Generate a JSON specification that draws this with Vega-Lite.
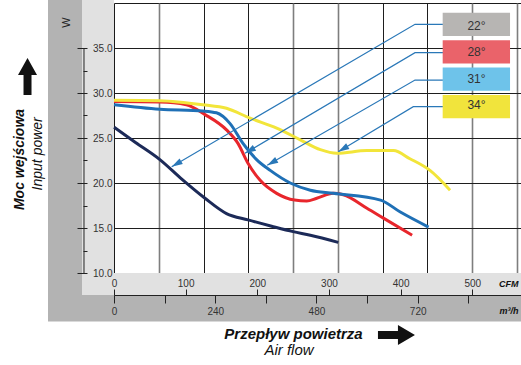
{
  "$schema": "https://vega.github.io/schema/vega-lite/v6.json",
  "width": 407,
  "height": 270,
  "autosize": "none",
  "padding": {"left": 114, "top": 3, "right": 0, "bottom": 92},
  "background": "white",
  "config": {
    "view": {"stroke": "#1a1a1a", "strokeWidth": 1, "fill": "white"},
    "font": "Liberation Sans",
    "axis": {
      "labelFont": "Liberation Sans",
      "titleFont": "Liberation Sans",
      "labelColor": "#333333",
      "tickColor": "#222222",
      "domainColor": "#222222",
      "titleColor": "#111111",
      "grid": false,
      "labelFlush": false,
      "labelFontSize": 10
    }
  },
  "datasets": {
    "curves": [
      {"series": "22°", "cfm": 0, "w": 26.2},
      {"series": "22°", "cfm": 30, "w": 24.5},
      {"series": "22°", "cfm": 64, "w": 22.6},
      {"series": "22°", "cfm": 95, "w": 20.4},
      {"series": "22°", "cfm": 127, "w": 18.3},
      {"series": "22°", "cfm": 157, "w": 16.6},
      {"series": "22°", "cfm": 187, "w": 15.9},
      {"series": "22°", "cfm": 220, "w": 15.2},
      {"series": "22°", "cfm": 250, "w": 14.6},
      {"series": "22°", "cfm": 274, "w": 14.2},
      {"series": "22°", "cfm": 313, "w": 13.4},
      {"series": "28°", "cfm": 0, "w": 29.05},
      {"series": "28°", "cfm": 64, "w": 29.0},
      {"series": "28°", "cfm": 101, "w": 28.7},
      {"series": "28°", "cfm": 127, "w": 27.6},
      {"series": "28°", "cfm": 157, "w": 25.9},
      {"series": "28°", "cfm": 173, "w": 24.4},
      {"series": "28°", "cfm": 187, "w": 22.2},
      {"series": "28°", "cfm": 204, "w": 20.3},
      {"series": "28°", "cfm": 227, "w": 18.85},
      {"series": "28°", "cfm": 252, "w": 18.1},
      {"series": "28°", "cfm": 269, "w": 18.0},
      {"series": "28°", "cfm": 283, "w": 18.3},
      {"series": "28°", "cfm": 306, "w": 18.85},
      {"series": "28°", "cfm": 320, "w": 18.7},
      {"series": "28°", "cfm": 353, "w": 17.2},
      {"series": "28°", "cfm": 376, "w": 16.1},
      {"series": "28°", "cfm": 416, "w": 14.2},
      {"series": "31°", "cfm": 0, "w": 28.7},
      {"series": "31°", "cfm": 64, "w": 28.2},
      {"series": "31°", "cfm": 124, "w": 28.0},
      {"series": "31°", "cfm": 143, "w": 27.8},
      {"series": "31°", "cfm": 162, "w": 26.6},
      {"series": "31°", "cfm": 180, "w": 24.4},
      {"series": "31°", "cfm": 199, "w": 22.6},
      {"series": "31°", "cfm": 218, "w": 21.4},
      {"series": "31°", "cfm": 246, "w": 20.0},
      {"series": "31°", "cfm": 274, "w": 19.2},
      {"series": "31°", "cfm": 306, "w": 18.85},
      {"series": "31°", "cfm": 372, "w": 18.1},
      {"series": "31°", "cfm": 399, "w": 16.8},
      {"series": "31°", "cfm": 439, "w": 15.1},
      {"series": "34°", "cfm": 0, "w": 29.2},
      {"series": "34°", "cfm": 64, "w": 29.15},
      {"series": "34°", "cfm": 124, "w": 28.7},
      {"series": "34°", "cfm": 157, "w": 28.3},
      {"series": "34°", "cfm": 190, "w": 27.2},
      {"series": "34°", "cfm": 227, "w": 26.1},
      {"series": "34°", "cfm": 260, "w": 24.8},
      {"series": "34°", "cfm": 288, "w": 23.7},
      {"series": "34°", "cfm": 311, "w": 23.3},
      {"series": "34°", "cfm": 353, "w": 23.6},
      {"series": "34°", "cfm": 390, "w": 23.6},
      {"series": "34°", "cfm": 413, "w": 22.7},
      {"series": "34°", "cfm": 441, "w": 21.4},
      {"series": "34°", "cfm": 469, "w": 19.2}
    ],
    "arrows": [
      {"series": "22°", "step": 1, "cfm": 459.1, "w": 37.63},
      {"series": "22°", "step": 2, "cfm": 420.1, "w": 37.63},
      {"series": "22°", "step": 3, "cfm": 80.5, "w": 21.81},
      {"series": "28°", "step": 1, "cfm": 459.1, "w": 34.48},
      {"series": "28°", "step": 2, "cfm": 420.1, "w": 34.48},
      {"series": "28°", "step": 3, "cfm": 182.8, "w": 23.3},
      {"series": "31°", "step": 1, "cfm": 459.1, "w": 31.44},
      {"series": "31°", "step": 2, "cfm": 420.1, "w": 31.44},
      {"series": "31°", "step": 3, "cfm": 213.9, "w": 21.97},
      {"series": "34°", "step": 1, "cfm": 459.1, "w": 28.48},
      {"series": "34°", "step": 2, "cfm": 417.7, "w": 28.48},
      {"series": "34°", "step": 3, "cfm": 313.0, "w": 23.48}
    ],
    "legend": [
      {"series": "22°"},
      {"series": "28°"},
      {"series": "31°"},
      {"series": "34°"}
    ]
  },
  "resolve": {
    "scale": {"y": "independent", "color": "independent"},
    "axis": {"x": "independent", "y": "independent"}
  },
  "layer": [
    {
      "data": {"values": [{}]},
      "mark": {"type": "rect", "color": "#b3b3b3"},
      "encoding": {
        "x": {"datum": -92.1, "type": "quantitative", "scale": {"domain": [0, 568]},
          "axis": {"orient": "bottom", "grid": true, "values": [125, 187.5, 375, 437.5], "gridColor": "#1e1e1e", "gridWidth": 1,
            "domain": false, "ticks": false, "labels": false, "zindex": 0,
            "title": "Przepływ powietrza", "titleFontSize": 15, "titleFontWeight": "bold", "titleFontStyle": "italic",
            "titleColor": "#111111", "titleAngle": 0, "titleAlign": "center", "titleBaseline": "middle", "titleX": 179, "titleY": 60}},
        "x2": {"datum": -44.66},
        "y": {"datum": 4.6, "type": "quantitative", "scale": {"domain": [10, 40]},
          "axis": {"orient": "left", "grid": true, "values": [15, 20, 25, 30, 35], "gridColor": "#1e1e1e", "gridWidth": 1,
            "domain": false, "ticks": false, "labels": false, "title": null, "zindex": 0}},
        "y2": {"datum": 40.5}
      }
    },
    {
      "data": {"values": [{}]},
      "mark": {"type": "rect", "color": "#b3b3b3"},
      "encoding": {
        "x": {"datum": -44.66, "type": "quantitative", "scale": {"domain": [0, 568]},
          "axis": {"orient": "bottom", "grid": true, "values": [62.5, 250, 312.5, 500, 562.5], "gridColor": "#7e7e7e", "gridWidth": 1.6,
            "domain": false, "ticks": false, "labels": false, "zindex": 0,
            "title": "Air flow", "titleFontSize": 15, "titleFontWeight": "normal", "titleFontStyle": "italic",
            "titleColor": "#111111", "titleAngle": 0, "titleAlign": "center", "titleBaseline": "middle", "titleX": 174.5, "titleY": 76}},
        "x2": {"datum": 570},
        "y": {"datum": 4.6, "type": "quantitative", "scale": {"domain": [10, 40]}, "axis": null},
        "y2": {"datum": 7.556}
      }
    },
    {
      "data": {"values": [{}]},
      "mark": {"type": "rect", "color": "#e1e1e1"},
      "encoding": {
        "x": {"datum": -44.66, "type": "quantitative", "scale": {"domain": [0, 568]},
          "axis": {"orient": "bottom", "zindex": 1, "values": [0, 100, 200, 300, 400, 500], "offset": 0, "domain": false, "ticks": false,
            "labelPadding": 5, "labelFontSize": 10,
            "title": "CFM", "titleFontSize": 9, "titleFontWeight": "bold", "titleFontStyle": "italic",
            "titleAngle": 0, "titleAlign": "right", "titleBaseline": "middle", "titleX": 404, "titleY": 10}},
        "x2": {"datum": 0},
        "y": {"datum": 7.556, "type": "quantitative", "scale": {"domain": [10, 40]}, "axis": null},
        "y2": {"datum": 40.5}
      }
    },
    {
      "data": {"values": [{}]},
      "mark": {"type": "rect", "color": "#e1e1e1"},
      "encoding": {
        "x": {"datum": 0, "type": "quantitative", "scale": {"domain": [0, 568]},
          "axis": {"orient": "bottom", "zindex": 1, "values": [0, 100, 200, 300, 400, 500], "offset": 16, "domain": false, "ticks": true, "tickSize": 6,
            "labels": false, "title": null}},
        "x2": {"datum": 570},
        "y": {"datum": 7.556, "type": "quantitative", "scale": {"domain": [10, 40]}, "axis": null},
        "y2": {"datum": 10}
      }
    },
    {
      "data": {"name": "curves"},
      "mark": {"type": "line", "strokeWidth": 3, "interpolate": "monotone"},
      "encoding": {
        "x": {"field": "cfm", "type": "quantitative", "scale": {"domain": [0, 568]},
          "axis": {"orient": "bottom", "zindex": 1, "values": [0, 70.63, 141.26, 211.89, 282.52, 353.15, 423.78, 494.41], "offset": 22,
            "domain": true, "domainColor": "#222222", "tickSize": 8, "labelPadding": 3, "labelFontSize": 10,
            "labelExpr": "round(datum.value * 1.699) % 240 == 0 ? format(round(datum.value * 1.699), 'd') : ''",
            "title": "m³/h", "titleFontSize": 9, "titleFontWeight": "bold", "titleFontStyle": "italic",
            "titleAngle": 0, "titleAlign": "right", "titleBaseline": "middle", "titleX": 404, "titleY": 15}},
        "y": {"field": "w", "type": "quantitative", "scale": {"domain": [10, 40]},
          "axis": {"orient": "left", "zindex": 1, "values": [10, 15, 20, 25, 30, 35], "offset": 30, "domain": false, "labels": false, "tickSize": 7,
            "title": "Moc wejściowa", "titleFontSize": 14, "titleFontWeight": "bold", "titleFontStyle": "italic",
            "titleAngle": 270, "titleAlign": "center", "titleBaseline": "middle", "titleX": -64.5, "titleY": 156}},
        "color": {"field": "series", "type": "nominal",
          "scale": {"domain": ["22°", "28°", "31°", "34°"], "range": ["#1c2a58", "#e8262c", "#1f70b6", "#f2e53a"]},
          "legend": null}
      }
    },
    {
      "data": {"name": "arrows"},
      "mark": {"type": "line", "stroke": "#2a78b8", "strokeWidth": 1.2},
      "encoding": {
        "x": {"field": "cfm", "type": "quantitative", "scale": {"domain": [0, 568]}, "axis": null},
        "y": {"field": "w", "type": "quantitative", "scale": {"domain": [10, 40]},
          "axis": {"orient": "left", "zindex": 1, "values": [10, 15, 20, 25, 30, 35], "format": ".1f", "offset": 0, "domain": false, "ticks": false,
            "labelPadding": 2, "labelFontSize": 10,
            "title": "Input power", "titleFontSize": 14, "titleFontWeight": "normal", "titleFontStyle": "italic",
            "titleAngle": 270, "titleAlign": "center", "titleBaseline": "middle", "titleX": -77, "titleY": 150.3}},
        "detail": {"field": "series", "type": "nominal"},
        "order": {"field": "step", "type": "quantitative"}
      }
    },
    {
      "data": {"name": "arrows"},
      "transform": [{"filter": "datum.step == 3"}],
      "mark": {"type": "point", "shape": "M0,0L-0.6,2L0.6,2Z", "size": 120, "angle": 240, "filled": true,
        "fill": "#2a78b8", "opacity": 1, "strokeWidth": 0},
      "encoding": {
        "x": {"field": "cfm", "type": "quantitative", "scale": {"domain": [0, 568]}, "axis": null},
        "y": {"field": "w", "type": "quantitative", "scale": {"domain": [10, 40]},
          "axis": {"orient": "left", "zindex": 1, "values": [10, 12.5, 15, 17.5, 20, 22.5, 25, 27.5, 30, 32.5, 35], "offset": 27, "domain": false,
            "labels": false, "tickSize": 4,
            "title": "W", "titleFontSize": 11, "titleFontWeight": "normal", "titleColor": "#222222",
            "titleAngle": 270, "titleAlign": "center", "titleBaseline": "middle", "titleX": -21, "titleY": 19}}
      }
    },
    {
      "data": {"name": "legend"},
      "mark": {"type": "rect"},
      "encoding": {
        "x": {"datum": 458.7, "type": "quantitative", "scale": {"domain": [0, 568]}, "axis": null},
        "x2": {"datum": 552.7},
        "y": {"field": "series", "type": "nominal",
          "scale": {"domain": ["22°", "28°", "31°", "34°"], "range": [9.7, 115.3], "paddingInner": 0.15, "paddingOuter": 0},
          "axis": null},
        "color": {"field": "series", "type": "nominal",
          "scale": {"domain": ["22°", "28°", "31°", "34°"], "range": ["#b7b5b3", "#ea636a", "#6ec3ea", "#f1e43c"]},
          "legend": null}
      }
    },
    {
      "data": {"name": "legend"},
      "mark": {"type": "text", "fontSize": 12, "color": "#333333", "font": "Liberation Sans"},
      "encoding": {
        "x": {"datum": 505.9, "type": "quantitative", "scale": {"domain": [0, 568]}, "axis": null},
        "y": {"field": "series", "type": "nominal",
          "scale": {"domain": ["22°", "28°", "31°", "34°"], "range": [9.7, 115.3], "paddingInner": 0.15, "paddingOuter": 0},
          "axis": null},
        "text": {"field": "series", "type": "nominal"}
      }
    },
    {
      "data": {"values": [{}]},
      "mark": {"type": "point", "shape": "M0,-1L0.514,-0.08L0.216,-0.08L0.216,1L-0.216,1L-0.216,-0.08L-0.514,-0.08Z",
        "size": 1369, "filled": true, "fill": "#111111", "opacity": 1, "strokeWidth": 0},
      "encoding": {
        "x": {"datum": -120.7, "type": "quantitative", "scale": {"domain": [0, 568]}, "axis": null},
        "y": {"datum": 31.83, "type": "quantitative", "scale": {"domain": [10, 40]}, "axis": null}
      }
    },
    {
      "data": {"values": [{}]},
      "mark": {"type": "point", "shape": "M0,-1L0.54,-0.08L0.216,-0.08L0.216,1L-0.216,1L-0.216,-0.08L-0.54,-0.08Z",
        "size": 1369, "angle": 90, "filled": true, "fill": "#111111", "opacity": 1, "strokeWidth": 0},
      "encoding": {
        "x": {"datum": 394.2, "type": "quantitative", "scale": {"domain": [0, 568]}, "axis": null},
        "y": {"datum": 3.11, "type": "quantitative", "scale": {"domain": [10, 40]}, "axis": null}
      }
    },
    {
      "data": {"values": [{}]},
      "mark": {"type": "rule", "color": "#222222", "strokeWidth": 1},
      "encoding": {
        "x": {"datum": -41.87, "type": "quantitative", "scale": {"domain": [0, 568]}, "axis": null},
        "y": {"datum": 10, "type": "quantitative", "scale": {"domain": [10, 40]}, "axis": null},
        "y2": {"datum": 35}
      }
    }
  ]
}
